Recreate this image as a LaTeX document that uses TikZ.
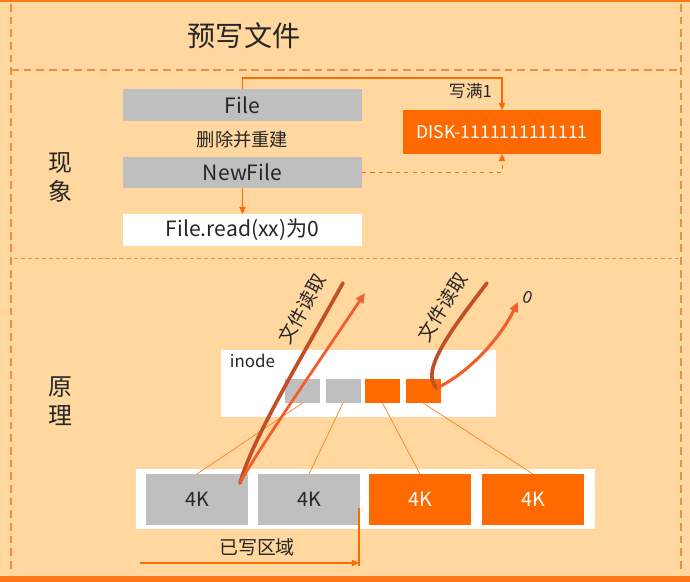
\documentclass[tikz,border=0pt]{standalone}
\usepackage{fontspec}
\setmainfont{Noto Sans CJK SC}
\usepackage{tikz}
\usetikzlibrary{positioning,calc,arrows.meta}
\definecolor{bgc}{HTML}{FFD79F}
\definecolor{orgc}{HTML}{FF6A00}
\definecolor{grayc}{HTML}{BFBFBF}
\definecolor{dashc}{HTML}{E8904A}
\definecolor{brownc}{HTML}{C24E28}
\definecolor{redc}{HTML}{F25F2C}
\definecolor{txtc}{HTML}{262626}

\begin{document}
\begin{tikzpicture}[x=0.025cm, y=-0.025cm,
                    wd/.style={minimum width=#1*0.025cm},
                    ht/.style={minimum height=#1*0.025cm},
                    box/.style={inner sep=0pt, outer sep=0pt, text=txtc},
                    cell/.style={box, wd=35, ht=24},
                    blk/.style={box, wd=102, ht=51, font=\fontsize{14}{16}\selectfont},
                    link/.style={orgc!85, line width=0.5pt},
                    frame/.style={dashc, line width=1.4pt, dash pattern=on 5.5pt off 3.5pt},
                    tip/.style={-{Triangle[length=5pt,width=4.5pt]}},
                    bigtip/.style={-{Triangle[length=7pt,width=6pt]}},
                    every node/.style={text=txtc}]
  % background and borders
  \fill[bgc] (0,0) rectangle (690,582);
  \useasboundingbox (0,0) rectangle (690,582);
  \fill[orgc!90] (0,0) rectangle (690,2);
  \fill[orgc!90] (0,576) rectangle (690,582);
  \draw[frame] (11,4) -- (11,572);
  \draw[frame] (681,4) -- (681,572);
  \draw[frame] (11,70) -- (681,70);
  \draw[dashc, line width=0.6pt, dash pattern=on 3pt off 2pt] (14,258) -- (678,258);
  % titles
  \node[font=\fontsize{20}{22}\selectfont] (title) at (244,36) {预写文件};
  \node[align=center, font=\fontsize{17}{20.6}\selectfont] (lbla) at (60,177) {现\\象};
  \node[align=center, font=\fontsize{17}{20.6}\selectfont] (lblb) at (60,401) {原\\理};
  % phenomenon
  \node[box, fill=grayc, wd=239, ht=32, font=\fontsize{15}{17}\selectfont] (file) at (242.5,105) {File};
  \node[font=\fontsize{13}{15}\selectfont] (del) at (242.5,140) {删除并重建};
  \node[box, fill=grayc, wd=239, ht=31, font=\fontsize{15}{17}\selectfont] (newfile) at (242.5,172.5) {NewFile};
  \node[box, fill=white, wd=239, ht=32, font=\fontsize{15}{17}\selectfont] (read) at (242.5,230) {File.read(xx)为0};
  \node[box, fill=orgc, text=white, wd=198, ht=44, font=\fontsize{12.5}{15}\selectfont] (disk) at (502,132) {DISK-1111111111111};
  \draw[orgc, line width=0.8pt, tip] (file.north) -- ++(0,-11) -| (disk.north);
  \node[anchor=east, font=\fontsize{12}{14}\selectfont] (full) at (497,91) {写满1};
  \draw[orgc, line width=0.6pt, dashed, tip] (newfile.east) -| (disk.south);
  \draw[orgc, line width=0.8pt, tip] (newfile.south) -- (read.north);
  % principle: inode and blocks
  \node[box, fill=white, wd=275, ht=67] (inode) at (358.5,383.5) {};
  \node[anchor=west, font=\fontsize{12}{14}\selectfont] (ilbl) at (225,361) {inode};
  \foreach \i/\x/\c in {1/302.5/grayc,2/343/grayc,3/382.5/orgc,4/423/orgc}
    {\node[cell, fill=\c] (s\i) at (\x,391) {};}
  \node[box, fill=white, wd=459, ht=60] (row) at (365.5,499) {};
  \foreach \i/\x/\c/\t in {1/197/grayc/txtc,2/309/grayc/txtc,3/420/orgc/white,4/533/orgc/white}
    {\node[blk, fill=\c, text=\t] (k\i) at (\x,499.5) {4K};}
  \foreach \i in {1,...,4}
    {\draw[link] (s\i.south) -- (k\i.north);}
  % written area
  \coordinate (wtop) at (359,508);
  \coordinate (wbot) at (359,566);
  \coordinate (wbeg) at (140,563);
  \draw[orgc, line width=1pt] (wtop) -- (wbot);
  \draw[orgc, line width=0.8pt, tip] (wbeg) -- (wbeg -| wtop);
  \node[font=\fontsize{13.5}{16}\selectfont] (wlbl) at (257,547) {已写区域};
  % reads
  \coordinate (ra) at (343,283);
  \coordinate (rb) at (240,483);
  \coordinate (rc) at (365,293);
  \draw[brownc, line width=2.6pt, line cap=round] (ra) .. controls (300,360) and (252,440) .. (rb);
  \draw[redc, line width=2pt, bigtip] (rb) .. controls (258,450) and (310,375) .. (rc);
  \node[rotate=61, font=\fontsize{13.5}{16}\selectfont] (rla) at (302,309) {文件读取};
  \coordinate (qa) at (487,283);
  \coordinate (qb) at (437,388);
  \coordinate (qc) at (518,302);
  \draw[brownc, line width=2.6pt, line cap=round] (qa) .. controls (455,325) and (418,372) .. (qb);
  \draw[redc, line width=2.2pt, bigtip] (qb) .. controls (470,372) and (500,338) .. (qc);
  \node[rotate=58, font=\fontsize{13.5}{16}\selectfont] (rlb) at (442,307) {文件读取};
  \node[rotate=-20, font=\fontsize{12}{14}\selectfont] (zero) at (528,297) {0};
\end{tikzpicture}
\end{document}
